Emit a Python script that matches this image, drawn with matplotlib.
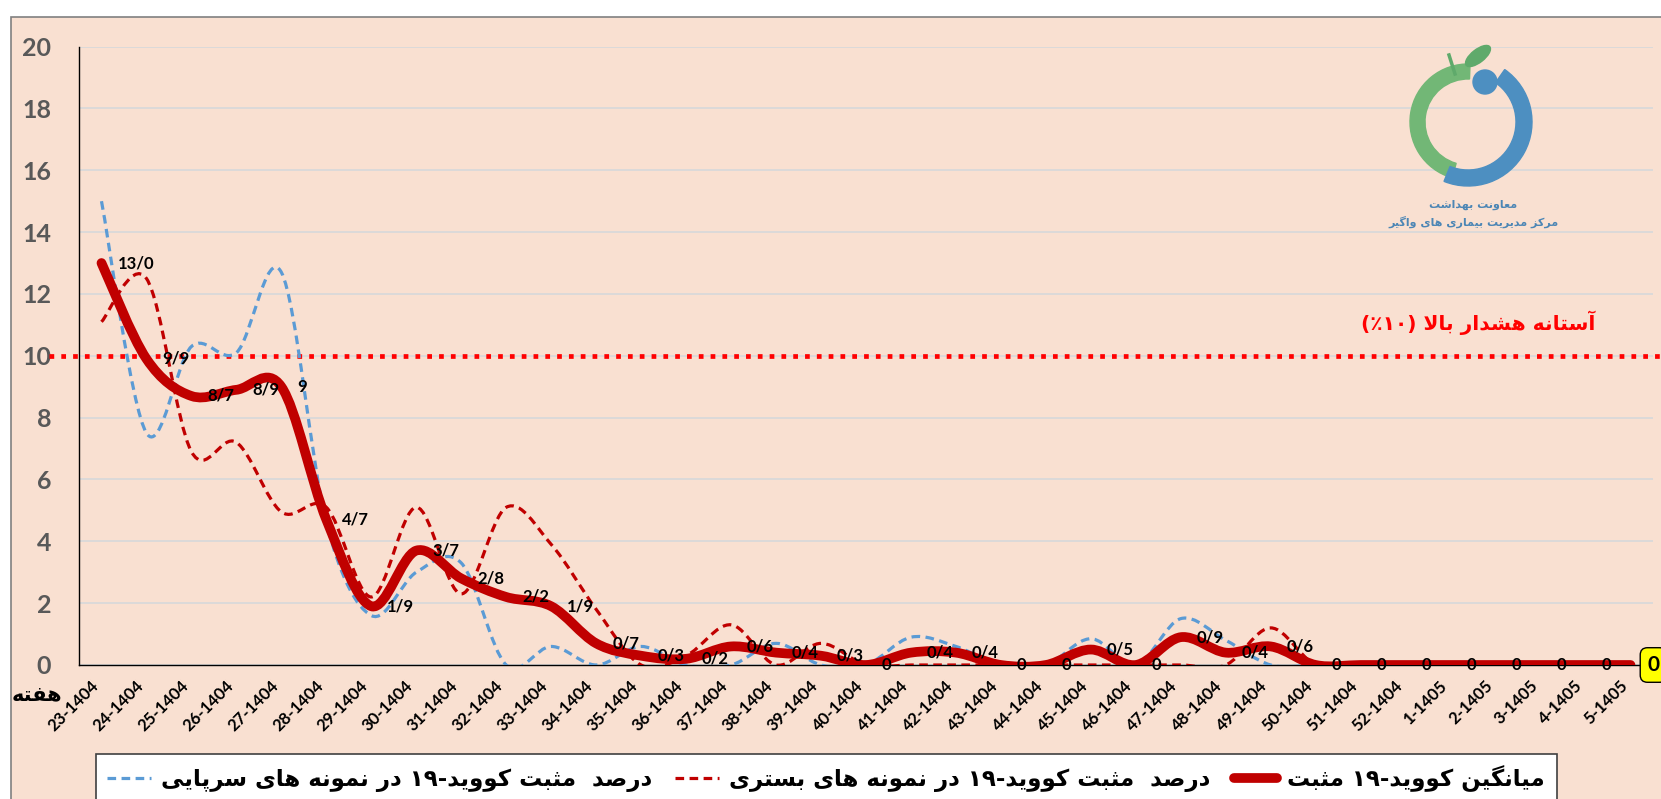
import re
import matplotlib
matplotlib.use("Agg")
import matplotlib.pyplot as plt
import numpy as np
from matplotlib.path import Path
from matplotlib.patches import PathPatch, Rectangle, Wedge, Circle, Ellipse
from matplotlib.lines import Line2D
from matplotlib.transforms import blended_transform_factory

# ---- data (weekly % positive) ----
weeks = [f"{w}-1404" for w in range(23, 53)] + [f"{w}-1405" for w in range(1, 6)]

outpatient = [15.0, 7.5, 10.3, 10.1, 12.7, 4.6, 1.6, 3.0, 3.3, 0.0,
              0.6, 0.0, 0.6, 0.0, 0.0, 0.7, 0.0, 0.0, 0.9, 0.6,
              0.0, 0.0, 0.85, 0.0, 1.5, 0.8, 0.0, 0.0, 0.0, 0.0,
              0.0, 0.0, 0.0, 0.0, 0.0]
inpatient = [11.1, 12.5, 6.9, 7.2, 4.95, 5.1, 2.2, 5.1, 2.3, 5.1,
             3.9, 1.8, 0.0, 0.3, 1.3, 0.0, 0.7, 0.0, 0.0, 0.0,
             0.0, 0.0, 0.0, 0.0, 0.0, 0.0, 1.2, 0.0, 0.0, 0.0,
             0.0, 0.0, 0.0, 0.0, 0.0]
average = [13.0, 9.9, 8.7, 8.9, 9.0, 4.7, 1.9, 3.7, 2.8, 2.2,
           1.9, 0.7, 0.3, 0.2, 0.6, 0.4, 0.3, 0.0, 0.4, 0.4,
           0.0, 0.0, 0.5, 0.0, 0.9, 0.4, 0.6, 0.0, 0.0, 0.0,
           0.0, 0.0, 0.0, 0.0, 0.0]
avg_labels = ["13/0", "9/9", "8/7", "8/9", "9", "4/7", "1/9", "3/7", "2/8", "2/2",
              "1/9", "0/7", "0/3", "0/2", "0/6", "0/4", "0/3", "0", "0/4", "0/4",
              "0", "0", "0/5", "0", "0/9", "0/4", "0/6", "0", "0", "0",
              "0", "0", "0", "0", "0"]
threshold = 10

label_out = "درصد  مثبت کووید-۱۹ در نمونه های سرپایی"
label_in = "درصد  مثبت کووید-۱۹ در نمونه های بستری"
label_avg = "میانگین کووید-۱۹ مثبت"
threshold_text = "آستانه هشدار بالا (۱۰٪)"
week_text = "هفته"
logo_lines = ["معاونت بهداشت", "مرکز مدیریت بیماری های واگیر"]

# ---- minimal Persian shaping (matplotlib has no bidi / joining) ----
FORMS = {  # isolated, final, initial, medial
    'ا': ('\uFE8D', '\uFE8E', None, None),
    'آ': ('\uFE81', '\uFE82', None, None),
    'ب': ('\uFE8F', '\uFE90', '\uFE91', '\uFE92'),
    'پ': ('\uFB56', '\uFB57', '\uFB58', '\uFB59'),
    'ت': ('\uFE95', '\uFE96', '\uFE97', '\uFE98'),
    'ث': ('\uFE99', '\uFE9A', '\uFE9B', '\uFE9C'),
    'د': ('\uFEA9', '\uFEAA', None, None),
    'ر': ('\uFEAD', '\uFEAE', None, None),
    'ز': ('\uFEAF', '\uFEB0', None, None),
    'س': ('\uFEB1', '\uFEB2', '\uFEB3', '\uFEB4'),
    'ش': ('\uFEB5', '\uFEB6', '\uFEB7', '\uFEB8'),
    'ص': ('\uFEB9', '\uFEBA', '\uFEBB', '\uFEBC'),
    'ع': ('\uFEC9', '\uFECA', '\uFECB', '\uFECC'),
    'ف': ('\uFED1', '\uFED2', '\uFED3', '\uFED4'),
    'ک': ('\uFB8E', '\uFB8F', '\uFB90', '\uFB91'),
    'گ': ('\uFB92', '\uFB93', '\uFB94', '\uFB95'),
    'ل': ('\uFEDD', '\uFEDE', '\uFEDF', '\uFEE0'),
    'م': ('\uFEE1', '\uFEE2', '\uFEE3', '\uFEE4'),
    'ن': ('\uFEE5', '\uFEE6', '\uFEE7', '\uFEE8'),
    'ه': ('\uFEE9', '\uFEEA', '\uFEEB', '\uFEEC'),
    'و': ('\uFEED', '\uFEEE', None, None),
    'ی': ('\uFBFC', '\uFBFD', '\uFBFE', '\uFBFF'),
}
LAM_ALEF = {'ا': ('\uFEFB', '\uFEFC'), 'آ': ('\uFEF5', '\uFEF6')}


def shape(text):
    out = []
    i = 0
    while i < len(text):
        c = text[i]
        if c not in FORMS:
            out.append(c)
            i += 1
            continue
        prev = text[i - 1] if i > 0 else None
        join_prev = prev in FORMS and FORMS[prev][2] is not None
        nxt = text[i + 1] if i + 1 < len(text) else None
        if c == 'ل' and nxt in LAM_ALEF:
            out.append(LAM_ALEF[nxt][1 if join_prev else 0])
            i += 2
            continue
        iso, fin, ini, med = FORMS[c]
        join_next = ini is not None and nxt in FORMS
        if join_prev and join_next:
            out.append(med)
        elif join_prev:
            out.append(fin)
        elif join_next:
            out.append(ini)
        else:
            out.append(iso)
        i += 1
    return ''.join(out)


def rtl(text):
    s = shape(text)[::-1]
    s = re.sub(r'[0-9۰-۹]+', lambda m: m.group(0)[::-1], s)
    return s.translate(str.maketrans('()', ')('))


def smooth_path(y):
    # Excel style smoothed line: bezier segments through the points
    x = np.arange(len(y), dtype=float)
    y = np.asarray(y, dtype=float)
    verts = [(x[0], y[0])]
    codes = [Path.MOVETO]
    n = len(y)
    for i in range(n - 1):
        i0 = max(i - 1, 0)
        i3 = min(i + 2, n - 1)
        c1 = (x[i] + (x[i + 1] - x[i0]) / 6, y[i] + (y[i + 1] - y[i0]) / 6)
        c2 = (x[i + 1] - (x[i3] - x[i]) / 6, y[i + 1] - (y[i3] - y[i]) / 6)
        verts += [c1, c2, (x[i + 1], y[i + 1])]
        codes += [Path.CURVE4] * 3
    return Path(verts, codes)


W, H = 1661, 799
PEACH = "#F9E0D1"
DARKRED = "#C00000"
BLUE = "#5B9BD5"
FA = "DejaVu Sans"


def fx(px):
    return px / W


def fy(py):
    return 1 - py / H


fig = plt.figure(figsize=(W / 100, H / 100), dpi=100, facecolor="white")
fig.add_artist(Rectangle((fx(11), -0.02), 1.0, fy(17) + 0.02, transform=fig.transFigure,
                         facecolor=PEACH, edgecolor="#808080", lw=1.2, zorder=0))

ax = fig.add_axes([fx(79), fy(665), fx(1653) - fx(79), (665 - 46.6) / H])
ax.set_facecolor("none")
ax.set_xlim(-0.5, len(weeks) - 0.5)
ax.set_ylim(0, 20)
ax.set_yticks(range(0, 21, 2))
ax.grid(axis="y", color="#D9D9D9", lw=1.3)
ax.set_axisbelow(True)
for s in ["top", "right"]:
    ax.spines[s].set_visible(False)
ax.spines["left"].set_color("black")
ax.spines["bottom"].set_color("black")
ax.spines["left"].set_linewidth(1.0)
ax.spines["bottom"].set_linewidth(1.0)

ax.set_xticks(range(len(weeks)))
ax.set_xticklabels(weeks, rotation=45, ha="right", va="bottom", rotation_mode="anchor",
                   fontsize=12, fontweight="bold", family="Lato")
ax.tick_params(axis="x", length=0, pad=17)
ax.tick_params(axis="y", length=0, pad=20, labelsize=18, labelcolor="#595959")
for t in ax.get_yticklabels():
    t.set_fontweight("bold")
    t.set_family("Lato")

# series
ax.add_patch(PathPatch(smooth_path(outpatient), fill=False, edgecolor=BLUE, lw=2.3,
                       ls=(0, (2.7, 1.7)), zorder=3))
ax.add_patch(PathPatch(smooth_path(inpatient), fill=False, edgecolor=DARKRED, lw=2.3,
                       ls=(0, (2.7, 1.7)), zorder=3))
ax.add_patch(PathPatch(smooth_path(average), fill=False, edgecolor=DARKRED, lw=7,
                       capstyle="round", joinstyle="round", zorder=4))

# threshold line (runs past the axes)
tr = blended_transform_factory(fig.transFigure, ax.transData)
ax.plot([fx(49), 1.0], [threshold, threshold], transform=tr, color="#FF0000", lw=3.4,
        ls=(0, (1, 1.5)), dash_capstyle="butt", clip_on=False, zorder=2)
fig.text(fx(1478), fy(323), rtl(threshold_text), color="#FF0000", fontsize=14.5,
         fontweight="bold", family=FA, ha="center", va="center")

# data labels
last = len(average) - 1
for i, (v, lab) in enumerate(zip(average, avg_labels)):
    if i == last:
        ax.annotate(lab, (i, v), xytext=(17, 0), textcoords="offset pixels",
                    ha="left", va="center", fontsize=15, fontweight="bold", family="Lato",
                    annotation_clip=False, zorder=6,
                    bbox=dict(boxstyle="round,pad=0.35", fc="#FFFF00", ec="black", lw=1))
    else:
        ax.annotate(lab, (i, v), xytext=(16, 0), textcoords="offset pixels",
                    ha="left", va="center", fontsize=12, fontweight="bold", family="Lato",
                    annotation_clip=False, zorder=6)

fig.text(fx(37), fy(694), rtl(week_text), fontsize=15, fontweight="bold", family=FA,
         ha="center", va="center")

# legend
handles = [
    Line2D([], [], color=BLUE, lw=2.3, ls=(0, (2.7, 1.7))),
    Line2D([], [], color=DARKRED, lw=2.3, ls=(0, (2.7, 1.7))),
    Line2D([], [], color=DARKRED, lw=7, solid_capstyle="round"),
]
leg = fig.legend(handles, [rtl(label_out), rtl(label_in), rtl(label_avg)], ncol=3,
                 loc="upper left", bbox_to_anchor=(fx(96), fy(754)),
                 bbox_transform=fig.transFigure, borderaxespad=0, fancybox=False,
                 framealpha=1, facecolor="white", edgecolor="#404040",
                 prop=dict(family=FA, weight="bold", size=16.5),
                 handlelength=1.9, handletextpad=0.45, columnspacing=1.0, borderpad=0.5)
leg.get_frame().set_linewidth(1.2)

# logo (drawn in pixel coords of the figure)
lg = fig.add_axes([fx(1380), fy(235), 190 / W, 195 / H])
lg.set_xlim(1380, 1570)
lg.set_ylim(235, 40)
lg.axis("off")
GREEN = "#72B776"
LBLUE = "#4D8FC1"
lg.add_patch(Wedge((1468, 122), 58, 106, 272, width=15, color=GREEN))
lg.add_patch(Wedge((1468, 122), 64, -55, 112, width=16, color=LBLUE))
lg.add_patch(Circle((1485, 82), 12, color=LBLUE))
lg.add_patch(Ellipse((1478, 56), 30, 13, angle=-38, color="#5FAA6B"))
lg.plot([1449, 1455], [55, 74], color="#5FAA6B", lw=2.5)
lg.text(1473, 205, rtl(logo_lines[0]), ha="center", va="center", fontsize=8,
        fontweight="bold", family=FA, color="#4C86B5")
lg.text(1473, 222, rtl(logo_lines[1]), ha="center", va="center", fontsize=8,
        fontweight="bold", family=FA, color="#4C86B5")

fig.savefig("out.png", dpi=100)
